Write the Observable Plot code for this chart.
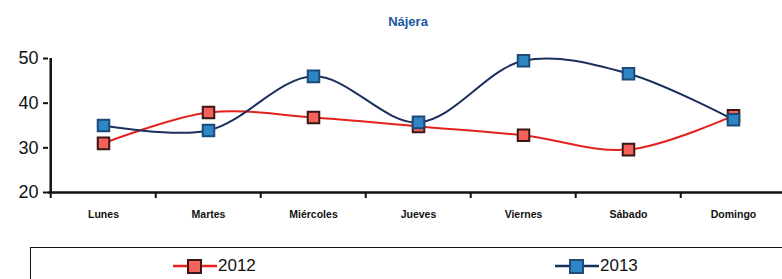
<!DOCTYPE html>
<html>
<head>
<meta charset="utf-8">
<script src="https://cdn.jsdelivr.net/npm/d3@7"></script>
<script src="https://cdn.jsdelivr.net/npm/@observablehq/plot@0.6"></script>
<style>
  body { margin: 0; background: #fff; font-family: "Liberation Sans", Arial, sans-serif; width: 782px; height: 279px; overflow: hidden; position: relative; }
  #title { position: absolute; left: 0; top: 14px; width: 816px; text-align: center; color: #1a56a0; font-size: 13px; font-weight: bold; }
  #chart { position: absolute; left: 0; top: 40px; }
  #legend { position: absolute; left: 30px; top: 247px; width: 800px; height: 60px; border: 1.5px solid #111; border-right: none; }
  .item { position: absolute; top: 8px; display: flex; align-items: center; font-size: 17px; color: #111; }
</style>
</head>
<body>
<div id="title">Nájera</div>
<div id="chart"></div>
<div id="legend"></div>
<script>
const days = ["Lunes", "Martes", "Miércoles", "Jueves", "Viernes", "Sábado", "Domingo"];
const series = ["2012", "2013"];
const values2012 = [31, 37.9, 36.8, 34.8, 32.8, 29.6, 37.2];
const values2013 = [35, 33.9, 46, 35.7, 49.5, 46.6, 36.3];
const yTicks = [20, 30, 40, 50];

const lineColors = {"2012": "#e3211d", "2013": "#1b2f5e"};
const fillColors = {"2012": "#f4625a", "2013": "#2f86c4"};
const strokeColors = {"2012": "#3a1616", "2013": "#1e4a78"};

const data = [];
days.forEach((d, i) => {
  data.push({day: d, series: "2012", value: values2012[i]});
  data.push({day: d, series: "2013", value: values2013[i]});
});

const W = 782, ML = 48, MR = -5;
const step = (W - ML - MR) / days.length;

const plot = Plot.plot({
  width: W,
  height: 192,
  marginLeft: ML,
  marginRight: MR,
  marginTop: 18,
  marginBottom: 40,
  style: {fontFamily: "Liberation Sans, Arial, sans-serif", background: "transparent", overflow: "visible"},
  x: {type: "point", domain: days, padding: 0.5},
  y: {type: "linear", domain: [20, 50]},
  marks: [
    Plot.axisY({ticks: yTicks, tickSize: 5, tickPadding: 5, fontSize: 18, strokeWidth: 2, stroke: "#111", color: "#111", label: null}),
    Plot.axisX({tickSize: 0, tickPadding: 18, fontSize: 10.5, fontWeight: "bold", color: "#111", label: null}),
    Plot.ruleY([20], {stroke: "#111", strokeWidth: 2.5}),
    Plot.ruleX([days[0]], {dx: -step / 2, y1: 20, y2: 50, stroke: "#111", strokeWidth: 2.5}),
    Plot.ruleX(days, {x: d => d, dx: -step / 2, y1: 20, y2: 20, insetBottom: -6, stroke: "#111", strokeWidth: 2}),
    Plot.line(data.filter(d => d.series === "2012"), {x: "day", y: "value", stroke: lineColors["2012"], strokeWidth: 2, curve: "catmull-rom"}),
    Plot.line(data.filter(d => d.series === "2013"), {x: "day", y: "value", stroke: lineColors["2013"], strokeWidth: 2, curve: "catmull-rom"}),
    Plot.dot(data, {x: "day", y: "value", symbol: "square", r: 6.5, fill: d => fillColors[d.series], stroke: d => strokeColors[d.series], strokeWidth: 2})
  ]
});
document.getElementById("chart").appendChild(plot);

// legend
const legend = document.getElementById("legend");
const legendX = {"2012": 142, "2013": 524};
series.forEach(s => {
  const item = document.createElement("div");
  item.className = "item";
  item.style.left = legendX[s] + "px";
  item.innerHTML = `<svg width="44" height="18"><line x1="0" y1="9" x2="44" y2="9" stroke="${lineColors[s]}" stroke-width="2.5"/><rect x="15" y="3" width="13" height="13" fill="${fillColors[s]}" stroke="${strokeColors[s]}" stroke-width="2"/></svg><span style="margin-left:1px">${s}</span>`;
  legend.appendChild(item);
});
</script>
</body>
</html>
